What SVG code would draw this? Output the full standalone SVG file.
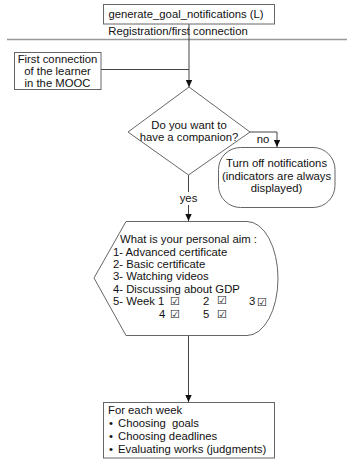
<svg xmlns="http://www.w3.org/2000/svg" width="347" height="462" viewBox="0 0 347 462">
<defs>
<marker id="arr" markerWidth="8" markerHeight="8" refX="7" refY="4" orient="auto" markerUnits="userSpaceOnUse">
<path d="M0,0.8 L7,4 L0,7.2 Z" fill="#111"/>
</marker>
<style>
.box{fill:#fff;stroke:#666;stroke-width:1}
.ln{fill:none;stroke:#444;stroke-width:1}
.t{font-family:"Liberation Sans",Arial,sans-serif;font-size:11.3px;fill:#111}
.c{text-anchor:middle}
.cb{font-family:"DejaVu Sans",sans-serif;font-size:11px;font-weight:bold;fill:#111}
</style>
</defs>
<rect width="347" height="462" fill="#fff"/>
<g id="separator">
<line x1="7" y1="39.5" x2="347" y2="39.5" stroke="#999" stroke-width="1.5"/>
<text class="t c" x="178" y="35">Registration/first connection</text>
</g>
<g id="connectors">
<polyline class="ln" points="189,24 189,87" marker-end="url(#arr)"/>
<polyline class="ln" points="101,69.5 189,69.5"/>
<polyline class="ln" points="250,132 277,132 277,147" marker-end="url(#arr)"/>
<polyline class="ln" points="188.5,175 188.5,221" marker-end="url(#arr)"/>
<polyline class="ln" points="188.5,335 188.5,402" marker-end="url(#arr)"/>
<rect x="179" y="192" width="19" height="13" fill="#fff"/>
<text class="t c" x="188.5" y="202">yes</text>
<text class="t c" x="263" y="143">no</text>
</g>
<g id="start">
<rect class="box" x="103.5" y="4.5" width="171" height="19.5"/>
<text class="t c" x="186" y="18">generate_goal_notifications (L)</text>
</g>
<g id="first-connection">
<rect class="box" x="14.5" y="52.5" width="86.5" height="37"/>
<text class="t c" x="57.5" y="62.5">First connection</text>
<text class="t c" x="57.5" y="74.5">of the learner</text>
<text class="t c" x="57.5" y="86.5">in the MOOC</text>
</g>
<g id="decision">
<polygon class="box" points="189,87 250,132 188.5,175 128,132"/>
<text class="t c" x="189" y="129">Do you want to</text>
<text class="t c" x="189" y="141">have a companion?</text>
</g>
<g id="turn-off">
<rect class="box" x="218.5" y="147.5" width="116.5" height="60" rx="22" ry="22"/>
<text class="t c" x="276.5" y="167">Turn off notifications</text>
<text class="t c" x="276.5" y="179.5">(indicators are always</text>
<text class="t c" x="276.5" y="191.5">displayed)</text>
</g>
<g id="personal-aim">
<path class="box" d="M126,221.5 L247,221.5 A31,57 0 0 1 247,335.5 L126,335.5 L94,278 Z"/>
<text class="t" x="120" y="243">What is your personal aim :</text>
<text class="t" x="113" y="255.5">1- Advanced certificate</text>
<text class="t" x="113" y="267.5">2- Basic certificate</text>
<text class="t" x="113" y="280">3- Watching videos</text>
<text class="t" x="113" y="292.5">4- Discussing about GDP</text>
<text class="t" x="113" y="305">5- Week 1</text>
<text class="cb" x="170" y="305">☑</text>
<text class="t" x="203" y="305">2</text>
<text class="cb" x="217" y="303.5">☑</text>
<text class="t" x="249" y="305">3</text>
<text class="cb" x="257" y="305.5">☑</text>
<text class="t" x="159" y="318">4</text>
<text class="cb" x="170" y="318">☑</text>
<text class="t" x="203" y="318">5</text>
<text class="cb" x="217" y="318">☑</text>
</g>
<g id="each-week">
<rect class="box" x="103.5" y="402.5" width="171" height="55.5"/>
<text class="t" x="108" y="414">For each week</text>
<text class="t" x="109" y="427">•</text>
<text class="t" x="118" y="427" xml:space="preserve">Choosing  goals</text>
<text class="t" x="109" y="440">•</text>
<text class="t" x="118" y="440">Choosing deadlines</text>
<text class="t" x="109" y="453">•</text>
<text class="t" x="118" y="453">Evaluating works (judgments)</text>
</g>
</svg>
